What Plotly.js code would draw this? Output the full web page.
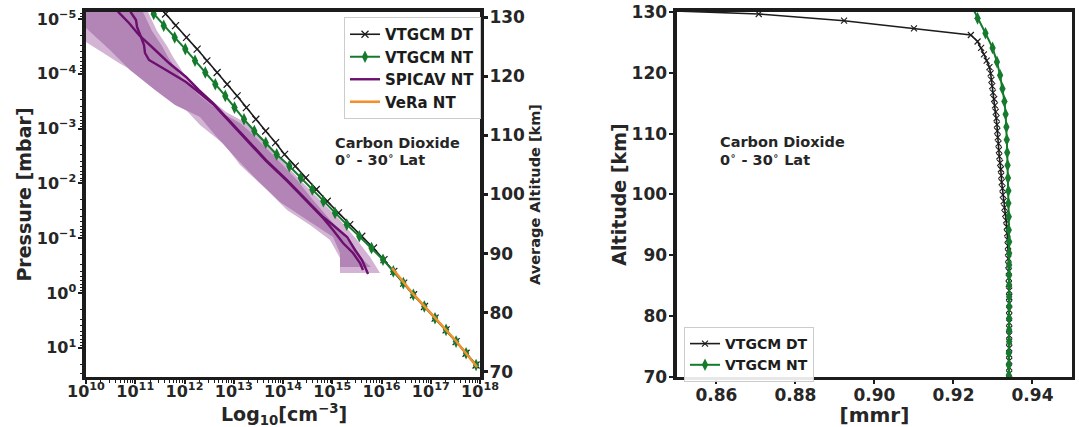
<!DOCTYPE html>
<html><head><meta charset="utf-8">
<script src="https://cdn.plot.ly/plotly-3.0.1.min.js"></script>
<style>html,body{margin:0;padding:0;background:#fff}#chart{width:1079px;height:427px}</style>
</head><body><div id="chart"></div>
<script>
// ---- Left panel: number density (log10 cm^-3) vs pressure (log10 mbar) ----
const vtgcmLogP = [-5.305,-5.091,-4.878,-4.664,-4.451,-4.237,-4.024,-3.810,-3.597,-3.383,-3.170,-2.956,-2.743,-2.529,-2.316,-2.102,-1.889,-1.675,-1.462,-1.248,-1.035,-0.821,-0.608,-0.394,-0.181,0.033,0.246,0.460,0.673,0.887,1.100,1.314];
const dtLogN = [11.41,11.615,11.818,12.041,12.256,12.453,12.662,12.865,13.068,13.255,13.448,13.647,13.849,14.032,14.248,14.459,14.675,14.898,15.126,15.354,15.599,15.837,16.050,16.250,16.450,16.650,16.872,17.088,17.311,17.514,17.716,17.919];
const ntLogN = [11.17,11.375,11.578,11.801,12.016,12.213,12.422,12.625,12.828,13.015,13.208,13.417,13.649,13.872,14.128,14.359,14.595,14.818,15.056,15.294,15.549,15.797,16.030,16.239,16.442,16.645,16.869,17.086,17.310,17.513,17.716,17.919];

const spicavA_logN = [10.528,10.670,10.873,11.076,11.360,11.685,12.031,12.294,12.579,12.843,13.127,13.655,14.081,14.487,14.812,15.015,15.300,15.462,15.604,15.665,15.706,15.726];
const spicavA_logP = [-5.274,-5.115,-4.927,-4.708,-4.471,-4.197,-3.942,-3.704,-3.467,-3.212,-2.939,-2.427,-2.062,-1.697,-1.387,-1.241,-1.022,-0.785,-0.602,-0.474,-0.383,-0.347];
const spicavB_logN = [10.853,10.914,11.015,11.036,11.117,11.178,11.198,11.279,11.624,12.031,12.234,12.579,12.843,13.127,13.655,14.081,14.487,14.812,15.015,15.218,15.421,15.563,15.624];
const spicavB_logP = [-5.274,-5.115,-4.982,-4.854,-4.672,-4.526,-4.380,-4.252,-4.069,-3.850,-3.704,-3.449,-3.193,-2.920,-2.409,-2.044,-1.679,-1.369,-1.150,-0.912,-0.730,-0.547,-0.420];

const bandOuterLogN = [11.157,11.259,11.442,11.645,11.767,12.031,12.437,12.843,13.249,13.391,13.878,14.345,14.751,15.157,15.503,15.767,15.970,15.157,15.157,14.954,14.548,14.081,13.675,13.127,12.822,12.315,12.031,11.503,11.096,10.670,10.000,9.472,9.066,9.066];
const bandOuterLogP = [-5.347,-5.128,-4.781,-4.507,-4.307,-3.942,-3.595,-3.303,-3.102,-2.974,-2.518,-2.062,-1.697,-1.332,-0.967,-0.657,-0.365,-0.365,-0.639,-0.967,-1.241,-1.515,-1.880,-2.336,-2.701,-3.066,-3.339,-3.668,-3.978,-4.197,-4.580,-4.891,-5.128,-5.347];
const bandInnerLogN = [11.076,11.157,11.340,11.543,11.665,11.929,12.315,12.721,13.127,13.290,13.797,14.284,14.609,15.015,15.360,15.624,15.787,15.157,15.157,15.015,14.548,13.939,13.472,12.985,12.619,12.315,11.807,11.401,10.893,10.487,10.000,9.472,9.269];
const bandInnerLogP = [-5.347,-5.128,-4.781,-4.507,-4.307,-3.942,-3.595,-3.303,-3.102,-2.974,-2.518,-2.062,-1.697,-1.277,-0.912,-0.602,-0.474,-0.474,-0.730,-1.022,-1.296,-1.661,-2.062,-2.518,-2.883,-3.212,-3.431,-3.704,-4.069,-4.434,-4.836,-5.255,-5.347];

const veraLogN = [16.213,16.640,17.087,17.513,17.939];
const veraLogP = [-0.456,0.018,0.456,0.876,1.350];

const pressureTicks = [-5,-4,-3,-2,-1,0,1];
const densityTicks = [10,11,12,13,14,15,16,17,18];
const altitudeTicks = [70,80,90,100,110,120,130];

// ---- Right panel: CO2 mass mixing ratio vs altitude ----
const dtAlt = [130.87,129.67,128.57,127.32,126.22,125.15,124.10,123.05,122.00,120.95,119.90,118.85,117.80,116.75,115.70,114.65,113.60,112.55,111.50,110.45,109.40,108.35,107.30,106.25,105.20,104.15,103.10,102.05,101.00,99.95,98.90,97.85,96.80,95.75,94.70,93.65,92.60,91.55,90.50,89.45,88.40,87.35,86.30,85.25,84.20,83.15,82.10,81.05,80.00,78.95,77.90,76.85,75.80,74.75,73.70,72.65,71.60,70.55];
const dtMmr = [0.8196,0.8707,0.8923,0.9100,0.9244,0.9261,0.9270,0.9277,0.9284,0.9291,0.9294,0.9296,0.9298,0.9300,0.9303,0.9305,0.9307,0.9309,0.9310,0.9311,0.9312,0.9314,0.9315,0.9316,0.9318,0.9320,0.9321,0.9322,0.9324,0.9325,0.9327,0.9329,0.9331,0.9333,0.9335,0.9336,0.9337,0.9338,0.9338,0.9339,0.9339,0.9340,0.9340,0.9340,0.9341,0.9341,0.9341,0.9341,0.9341,0.9341,0.9341,0.9341,0.9341,0.9341,0.9341,0.9341,0.9341,0.9341];
const ntAlt = [131.40,128.96,126.50,124.10,121.80,119.60,117.40,115.30,113.20,111.10,109.00,106.90,104.80,102.70,100.60,98.55,96.36,94.17,92.25,90.34,88.42,86.77,85.13,83.21,81.57,79.66,77.74,75.82,73.91,71.99,70.30];
const ntMmr = [0.9243,0.9261,0.9281,0.9299,0.9310,0.9318,0.9324,0.9329,0.9332,0.9334,0.9335,0.9336,0.9337,0.9338,0.9339,0.9339,0.9340,0.9340,0.9341,0.9341,0.9341,0.9341,0.9341,0.9341,0.9341,0.9341,0.9341,0.9341,0.9340,0.9340,0.9340];
const mmrTicks = [0.86,0.88,0.90,0.92,0.94];

const pow10 = a => a.map(v => Math.pow(10, v));
const supMinus = n => String(n).replace('-', '\u2212');

const INK = '#1c1c1c';
const GREEN = '#157a2c';
const PURPLE = '#6c0f6e';
const ORANGE = '#f0902f';
const FONT = 'DejaVu Sans, sans-serif';
const TXT = '#262626';
const bold = (size) => ({family: FONT, size: size, color: TXT, weight: 'bold'});

const traces = [
  {x: pow10(bandOuterLogN), y: pow10(bandOuterLogP), xaxis:'x', yaxis:'y', mode:'lines', fill:'toself',
   fillcolor:'#d3b4d5', line:{width:0}, showlegend:false, hoverinfo:'skip'},
  {x: pow10(bandInnerLogN), y: pow10(bandInnerLogP), xaxis:'x', yaxis:'y', mode:'lines', fill:'toself',
   fillcolor:'#b384b6', line:{width:0}, showlegend:false, hoverinfo:'skip'},
  {x: pow10(spicavA_logN), y: pow10(spicavA_logP), xaxis:'x', yaxis:'y', mode:'lines',
   line:{color:PURPLE, width:2.4}, name:'SPICAV NT', legend:'legend', legendrank:3},
  {x: pow10(spicavB_logN), y: pow10(spicavB_logP), xaxis:'x', yaxis:'y', mode:'lines',
   line:{color:PURPLE, width:2.4}, showlegend:false},
  {x: pow10(dtLogN), y: pow10(vtgcmLogP), xaxis:'x', yaxis:'y', mode:'lines+markers',
   line:{color:INK, width:1.6}, marker:{symbol:'x-thin', size:7, line:{color:INK, width:1.2}},
   name:'VTGCM DT', legend:'legend', legendrank:1},
  {x: pow10(ntLogN), y: pow10(vtgcmLogP), xaxis:'x', yaxis:'y', mode:'lines+markers',
   line:{color:GREEN, width:2}, marker:{symbol:'diamond-tall', size:9, color:GREEN},
   name:'VTGCM NT', legend:'legend', legendrank:2},
  {x: pow10(veraLogN), y: pow10(veraLogP), xaxis:'x', yaxis:'y', mode:'lines',
   line:{color:ORANGE, width:2.6}, name:'VeRa NT', legend:'legend', legendrank:4},
  // carrier so that the average-altitude axis is drawn (no visible marks)
  {x: [null], y: [null], xaxis:'x', yaxis:'y2', mode:'markers', showlegend:false, hoverinfo:'skip'},

  {x: dtMmr, y: dtAlt, xaxis:'x2', yaxis:'y3', mode:'lines+markers',
   line:{color:INK, width:1.6}, marker:{symbol:'x-thin', size:6, line:{color:INK, width:1.1}},
   name:'VTGCM DT', legend:'legend2', legendrank:1},
  {x: ntMmr, y: ntAlt, xaxis:'x2', yaxis:'y3', mode:'lines+markers',
   line:{color:GREEN, width:2}, marker:{symbol:'diamond-tall', size:9, color:GREEN},
   name:'VTGCM NT', legend:'legend2', legendrank:2}
];

const axBase = {showline:true, mirror:true, linewidth:3.5, linecolor:INK, showgrid:false, zeroline:false,
  ticks:'outside', ticklen:4, tickwidth:2, tickcolor:INK, automargin:false};

const D1 = 0.0797, D2 = 0.4449, E1 = 0.6274, E2 = 0.9935, YB = 0.1171, YT = 0.9719;

const layout = {
  width:1079, height:427, margin:{l:0,r:0,t:0,b:0}, paper_bgcolor:'#fff', plot_bgcolor:'#fff',
  font:{family:FONT, color:TXT},
  xaxis: Object.assign({}, axBase, {type:'log', domain:[D1,D2], anchor:'y', range:[10,18],
    tickmode:'array', tickvals: pow10(densityTicks), ticktext: densityTicks.map(d=>'10<sup>'+d+'</sup>'),
    tickfont:bold(16), ticklabelstandoff:-7,
    minor:{ticks:'outside', ticklen:2.5, tickwidth:1, tickcolor:INK, dtick:'D1', showgrid:false}}),
  yaxis: Object.assign({}, axBase, {type:'log', domain:[YB,YT], anchor:'x', range:[1.533,-5.128],
    tickmode:'array', tickvals: pow10(pressureTicks), ticktext: pressureTicks.map(d=>'10<sup>'+supMinus(d)+'</sup>'),
    tickfont:bold(16), ticklabelstandoff:-1,
    minor:{ticks:'outside', ticklen:2.5, tickwidth:1, tickcolor:INK, dtick:'D1', showgrid:false},
    title:{text:'Pressure [mbar]', font:bold(19)}}),
  yaxis2: {overlaying:'y', anchor:'x', side:'right', range:[69.15,130.85], showline:false, showgrid:false, zeroline:false,
    tickmode:'array', tickvals: altitudeTicks, ticks:'outside', ticklen:7, tickwidth:3, tickcolor:INK,
    tickfont:bold(17), automargin:false, ticklabelstandoff:-2,
    title:{text:'Average Altitude [km]', font:bold(14.5)}},
  xaxis2: Object.assign({}, axBase, {domain:[E1,E2], anchor:'y3', range:[0.85,0.95],
    tickmode:'array', tickvals: mmrTicks, ticktext: mmrTicks.map(v=>v.toFixed(2)),
    tickfont:bold(17), ticklabelstandoff:-4,
    title:{text:'[mmr]', font:bold(20)}}),
  yaxis3: Object.assign({}, axBase, {domain:[YB,YT], anchor:'x2', range:[70,130],
    tickmode:'array', tickvals: altitudeTicks, tickfont:bold(17), ticklabelstandoff:-1,
    title:{text:'Altitude [km]', font:bold(19)}}),
  legend: {x:344/1079, y:1-17/427, xanchor:'left', yanchor:'top', bgcolor:'rgba(255,255,255,0.9)',
    bordercolor:'#cccccc', borderwidth:1, font:{family:FONT, size:15, color:'#1c1c1c', weight:'bold'},
    tracegroupgap:0, itemwidth:30},
  legend2: {x:684/1079, y:1-327/427, xanchor:'left', yanchor:'top', bgcolor:'rgba(255,255,255,0.9)',
    bordercolor:'#cccccc', borderwidth:1, font:{family:FONT, size:14, color:'#1c1c1c', weight:'bold'},
    tracegroupgap:0, itemwidth:30},
  annotations: [
    // x-axis title of the left panel, placed just below its tick labels
    {xref:'paper', yref:'paper', x:284/1079, y:1-414/427, xanchor:'center', yanchor:'middle', showarrow:false,
     text:'Log<sub>10</sub>[cm<sup>\u22123</sup>]', font:bold(19)},
    {xref:'paper', yref:'paper', x:333/1079, y:1-143/427, xanchor:'left', yanchor:'middle', showarrow:false,
     text:'Carbon Dioxide', font:bold(14.5)},
    {xref:'paper', yref:'paper', x:333/1079, y:1-159/427, xanchor:'left', yanchor:'middle', showarrow:false,
     text:'0<sup>\u2218</sup> - 30<sup>\u2218</sup> Lat', font:bold(14.5)},
    {xref:'paper', yref:'paper', x:718/1079, y:1-142/427, xanchor:'left', yanchor:'middle', showarrow:false,
     text:'Carbon Dioxide', font:bold(14.5)},
    {xref:'paper', yref:'paper', x:718/1079, y:1-159/427, xanchor:'left', yanchor:'middle', showarrow:false,
     text:'0<sup>\u2218</sup> - 30<sup>\u2218</sup> Lat', font:bold(14.5)}
  ]
};

Plotly.newPlot('chart', traces, layout, {displayModeBar:false, staticPlot:true});
</script></body></html>
